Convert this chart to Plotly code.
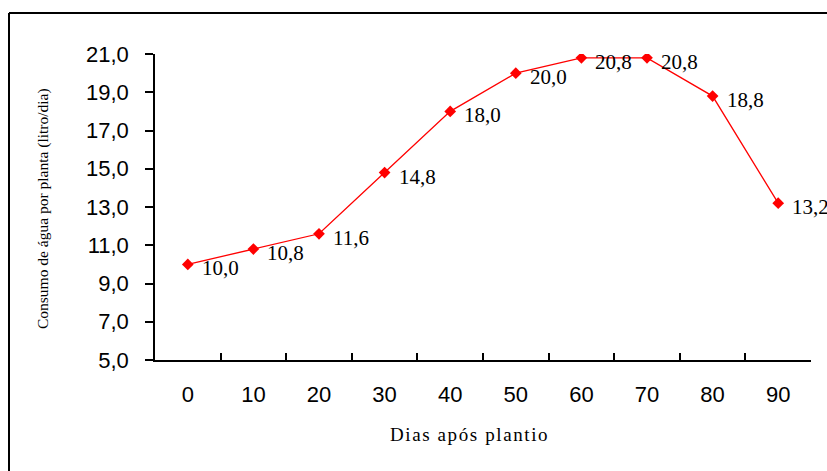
import plotly.graph_objects as go

dias = ["0", "10", "20", "30", "40", "50", "60", "70", "80", "90"]
consumo = [10.0, 10.8, 11.6, 14.8, 18.0, 20.0, 20.8, 20.8, 18.8, 13.2]
rotulos = ["10,0", "10,8", "11,6", "14,8", "18,0", "20,0", "20,8", "20,8", "18,8", "13,2"]
y_ticks = [5, 7, 9, 11, 13, 15, 17, 19, 21]
y_ticktext = ["5,0", "7,0", "9,0", "11,0", "13,0", "15,0", "17,0", "19,0", "21,0"]

W, H = 827, 471
L, R, T, B = 155, 16, 54, 111

fig = go.Figure()
fig.add_trace(go.Scatter(
    x=dias, y=consumo, mode="lines+markers",
    line=dict(color="#ff0000", width=1.3),
    marker=dict(symbol="diamond", size=9, color="#ff0000"),
    hoverinfo="skip", showlegend=False,
))

for i, (v, t) in enumerate(zip(consumo, rotulos)):
    fig.add_annotation(x=i, y=v, text=t, showarrow=False, xanchor="left",
                       yanchor="middle", xshift=12, yshift=-4,
                       font=dict(family="Liberation Serif, Times New Roman, serif",
                                 size=21, color="black"))

fig.add_annotation(xref="paper", yref="paper",
                   x=(469 - L) / (W - L - R), y=-(434 - (H - B)) / (H - T - B),
                   text='<span style="letter-spacing:1.6px">Dias após plantio</span>', showarrow=False,
                   xanchor="center", yanchor="middle",
                   font=dict(family="Liberation Serif, Times New Roman, serif", size=19, color="black"))

fig.add_annotation(xref="paper", yref="paper",
                   x=-(L - 43) / (W - L - R), y=((H - B) - 208) / (H - T - B),
                   text="Consumo de água por planta (litro/dia)", showarrow=False, textangle=-90,
                   xanchor="center", yanchor="middle",
                   font=dict(family="Liberation Serif, Times New Roman, serif", size=15.5, color="black"))

# outer frame (top and left edges visible)
fig.add_shape(type="line", xref="paper", yref="paper",
              x0=-(L - 9) / (W - L - R), x1=(W + 5 - L) / (W - L - R),
              y0=((H - B) - 13) / (H - T - B), y1=((H - B) - 13) / (H - T - B),
              line=dict(color="black", width=2))
fig.add_shape(type="line", xref="paper", yref="paper",
              x0=-(L - 9) / (W - L - R), x1=-(L - 9) / (W - L - R),
              y0=((H - B) - 13) / (H - T - B), y1=-(H + 5 - (H - B)) / (H - T - B),
              line=dict(color="black", width=2))

fig.update_layout(
    width=W, height=H,
    margin=dict(l=L, r=R, t=T, b=B),
    paper_bgcolor="white", plot_bgcolor="white",
    xaxis=dict(type="category", range=[-0.5, 9.5], tickson="boundaries",
               ticks="inside", ticklen=7, tickwidth=1.5, tickcolor="black",
               showline=True, linecolor="black", linewidth=1.5,
               showgrid=False, zeroline=False, ticklabelstandoff=14,
               tickfont=dict(family="Liberation Sans, Arial, sans-serif", size=22, color="black")),
    yaxis=dict(range=[5, 21], tickvals=y_ticks, ticktext=y_ticktext,
               ticks="outside", ticklen=8, tickwidth=1.5, tickcolor="black",
               showline=True, linecolor="black", linewidth=1.5,
               showgrid=False, zeroline=False, ticklabelstandoff=12,
               tickfont=dict(family="Liberation Sans, Arial, sans-serif", size=22, color="black")),
)

fig.write_html("out.html", config={"displayModeBar": False},
               post_script="document.body.style.margin='0';document.body.style.overflow='hidden';")
